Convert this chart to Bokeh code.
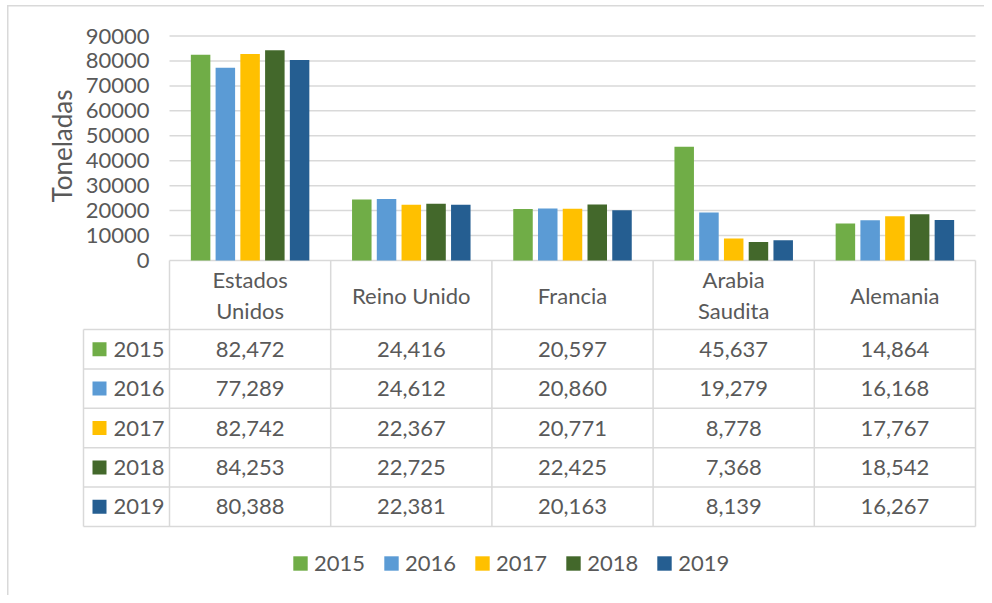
from bokeh.plotting import figure
from bokeh.models import (Range1d, FixedTicker, Title, Legend, LegendItem,
                          ColumnDataSource, NumeralTickFormatter)
from bokeh.core.properties import value
from bokeh.embed import file_html
from bokeh.resources import INLINE

# ---------------- data ----------------
countries = ["Estados Unidos", "Reino Unido", "Francia", "Arabia Saudita", "Alemania"]
country_labels = ["Estados\nUnidos", "Reino Unido", "Francia", "Arabia\nSaudita", "Alemania"]
years = ["2015", "2016", "2017", "2018", "2019"]
v2015 = [82472, 24416, 20597, 45637, 14864]
v2016 = [77289, 24612, 20860, 19279, 16168]
v2017 = [82742, 22367, 20771, 8778, 17767]
v2018 = [84253, 22725, 22425, 7368, 18542]
v2019 = [80388, 22381, 20163, 8139, 16267]
y_ticks = [0, 10000, 20000, 30000, 40000, 50000, 60000, 70000, 80000, 90000]
y_title = "Toneladas"
colors = ["#70AD47", "#5B9BD5", "#FFC000", "#43682B", "#255E91"]
series = [v2015, v2016, v2017, v2018, v2019]

# ---------------- style / layout (px) ----------------
FONT = "Lato"
FS = "22px"
TXT = "#595959"
GRID = "#D9D9D9"
LW = 1.5
W, H = 984, 595
COL_W = 161.2          # px per country column
PAD = 2                # px padding round the frame
HDR_W = 86             # row-header column width
ROW_H = 39.4           # table row height
HEAD_H = 69            # header row height
Y90_PX = 224.5         # px from 0 to 90000
TOP_B = 14             # px above frame
ZERO_FROM_TOP = 246    # px from frame top to y=0
BAR_W = 19.5 / COL_W
STEP = 24.75 / COL_W
LEFT_B = 81

n = len(countries)
m = len(years)
s = Y90_PX / 90000.0                      # px per data unit
frame_h = H - TOP_B                       # frame reaches the bottom (legend inside)
frame_w = COL_W * n + HDR_W + 2 * PAD
y_end = 90000 + (ZERO_FROM_TOP - Y90_PX) / s
y_start = -(frame_h - ZERO_FROM_TOP) / s
hdr = HDR_W / COL_W
padx = PAD / COL_W
right_b = W - LEFT_B - frame_w

chart_border = ("linear-gradient(#D9D9D9,#D9D9D9) 7px 5px / 1.5px 100% no-repeat, "
                "linear-gradient(#D9D9D9,#D9D9D9) 7px 5px / 100% 1.5px no-repeat, white")

p = figure(width=W, height=H,
           x_range=Range1d(-hdr - padx, n + padx), y_range=Range1d(y_start, y_end),
           output_backend="svg", toolbar_location=None,
           min_border_left=LEFT_B, min_border_right=int(round(right_b)),
           min_border_top=TOP_B, min_border_bottom=0,
           x_axis_location=None, outline_line_color=None,
           border_fill_alpha=0, styles={"background": chart_border})
p.xgrid.visible = False
p.ygrid.visible = False

# y axis drawn at x = 0 (left edge of the country columns)
p.yaxis.fixed_location = 0
p.yaxis.ticker = FixedTicker(ticks=y_ticks)
p.yaxis.formatter = NumeralTickFormatter(format="0")
p.yaxis.axis_line_color = None
p.yaxis.major_tick_line_color = None
p.yaxis.minor_tick_line_color = None
p.yaxis.major_label_standoff = 14
p.yaxis.major_label_text_font = FONT
p.yaxis.major_label_text_font_size = FS
p.yaxis.major_label_text_color = TXT

# gridlines over the country columns only
p.segment(x0=[0] * len(y_ticks), x1=[n] * len(y_ticks), y0=y_ticks, y1=y_ticks,
          line_color=GRID, line_width=LW)

p.add_layout(Title(text=y_title, align="left", offset=393,
                   text_font=FONT, text_font_size="26px", text_font_style="normal",
                   text_color=TXT, standoff=8), "left")

# bars
for j in range(m):
    xs = [i + 0.5 + (j - (m - 1) / 2) * STEP for i in range(n)]
    p.vbar(x=xs, top=series[j], bottom=0, width=BAR_W,
           fill_color=colors[j], line_color=None)

# ---------------- data table ----------------
row_line = [-(HEAD_H + k * ROW_H) / s for k in range(m + 1)]   # y of row borders
row_mid = [-(HEAD_H + (k + 0.5) * ROW_H) / s for k in range(m)]
head_mid = -(HEAD_H / 2) / s

# borders
p.segment(x0=[-hdr] * (m + 1), x1=[n] * (m + 1), y0=row_line, y1=row_line,
          line_color=GRID, line_width=LW)
p.segment(x0=list(range(n + 1)), x1=list(range(n + 1)),
          y0=[row_line[-1]] * (n + 1), y1=[0] * (n + 1),
          line_color=GRID, line_width=LW)
p.segment(x0=[-hdr], x1=[-hdr], y0=[row_line[-1]], y1=[row_line[0]],
          line_color=GRID, line_width=LW)

# header row
p.text(x=[i + 0.5 for i in range(n)], y=[head_mid] * n, text=country_labels,
       text_font=value(FONT), text_font_size=FS, text_color=TXT,
       text_align="center", text_baseline="middle", text_line_height=1.15)

# values
tx, ty, tt = [], [], []
for j in range(m):
    for i in range(n):
        tx.append(i + 0.5)
        ty.append(row_mid[j])
        tt.append("{:,}".format(series[j][i]))
p.text(x=tx, y=ty, text=tt, text_font=value(FONT), text_font_size=FS,
       text_color=TXT, text_align="center", text_baseline="middle")

# row headers: keys + year labels
key_src = ColumnDataSource(dict(x=[-hdr + 16 / COL_W] * m, y=row_mid,
                                color=colors, year=years))
keys = p.rect(x="x", y="y", width=14, height=14, width_units="screen",
              height_units="screen", fill_color="color", line_color=None,
              source=key_src)
p.text(x=[-hdr + 30 / COL_W] * m, y=row_mid, text=years,
       text_font=value(FONT), text_font_size=FS, text_color=TXT,
       text_align="left", text_baseline="middle")

# bottom legend (inside the frame, under the table)
legend = Legend(items=[LegendItem(label=years[j], renderers=[keys], index=j) for j in range(m)],
                orientation="horizontal", location=(210, 19),
                glyph_width=18, glyph_height=18, label_standoff=5, spacing=17,
                padding=0, margin=0, border_line_color=None,
                background_fill_alpha=0,
                label_text_font=FONT, label_text_font_size=FS, label_text_color=TXT)
p.add_layout(legend, "center")

open("out.html", "w").write(file_html(p, INLINE))
